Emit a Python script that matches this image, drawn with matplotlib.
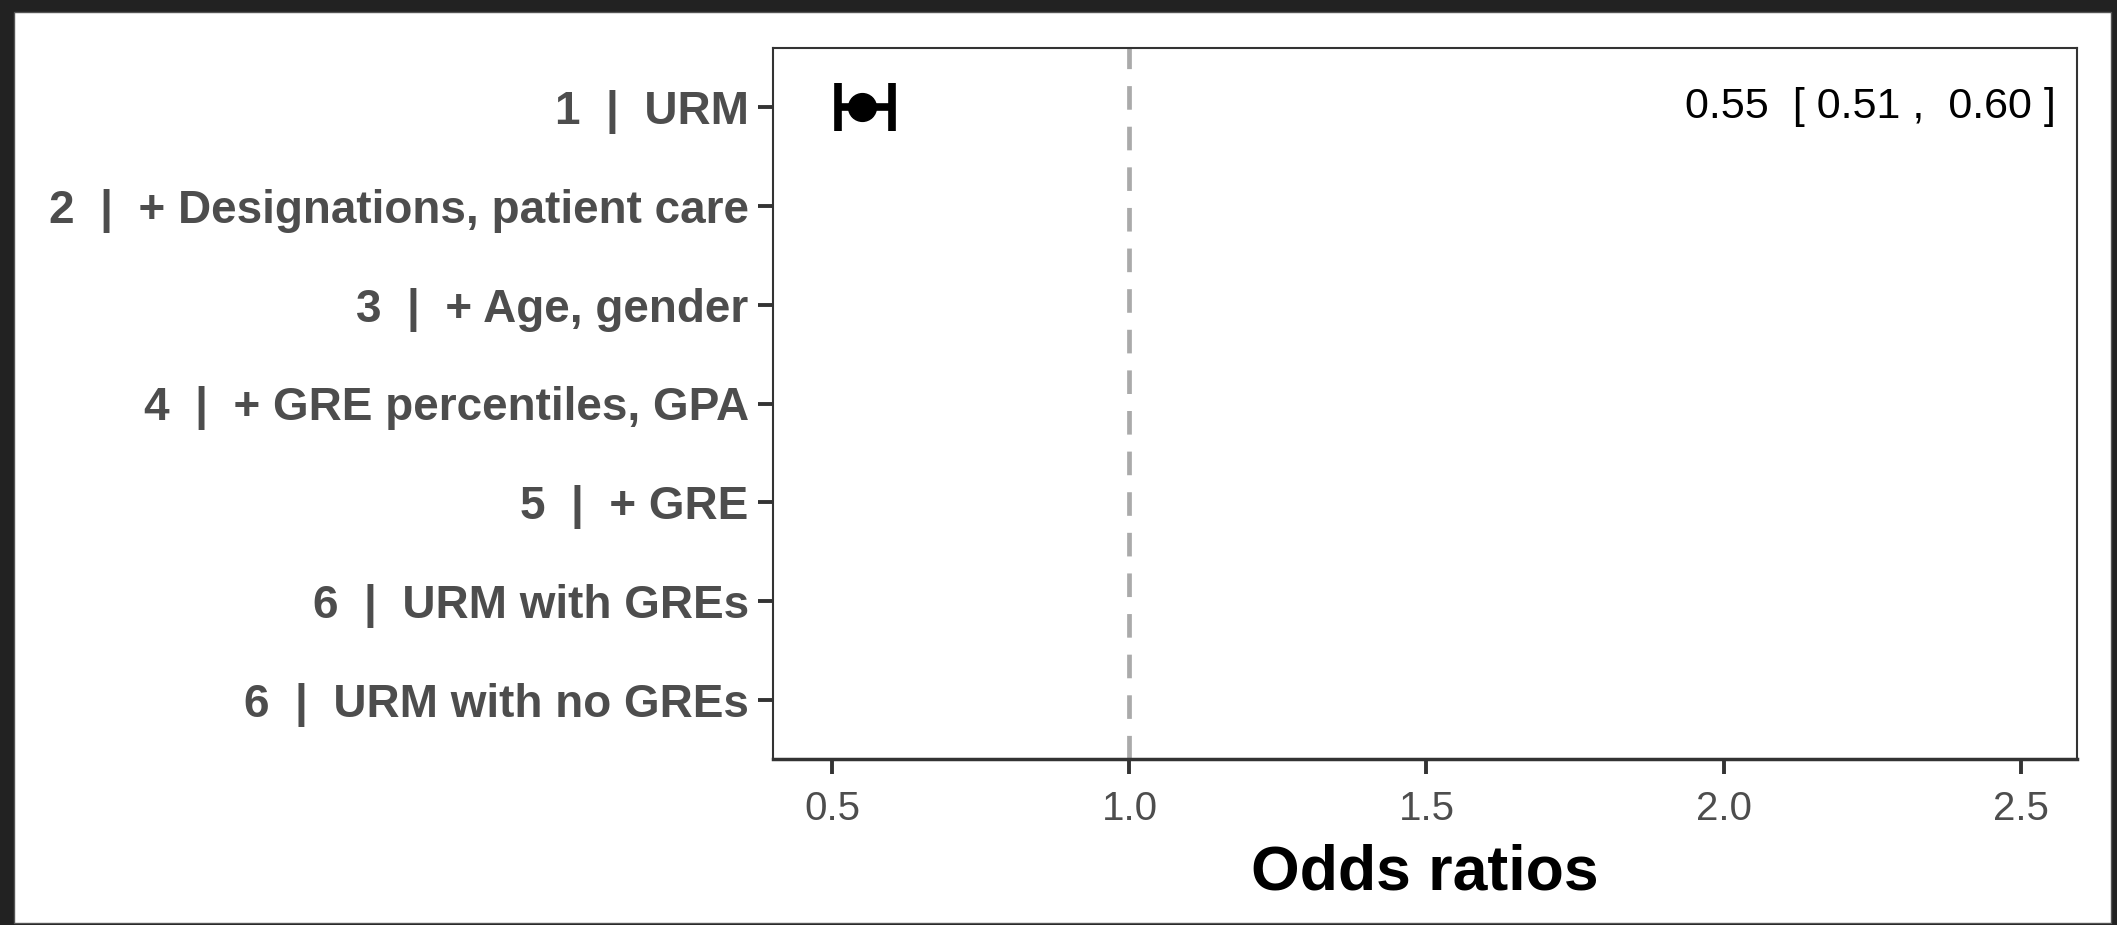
import matplotlib
matplotlib.use("Agg")
import matplotlib.pyplot as plt
from matplotlib.patches import Rectangle

# model rows, top to bottom
labels = [
    "1  |  URM",
    "2  |  + Designations, patient care",
    "3  |  + Age, gender",
    "4  |  + GRE percentiles, GPA",
    "5  |  + GRE",
    "6  |  URM with GREs",
    "6  |  URM with no GREs",
]
# only the first model has an estimate so far
est = [0.55]
lo = [0.51]
hi = [0.60]
xticks = [0.5, 1.0, 1.5, 2.0, 2.5]

plt.rcParams["font.family"] = ["Liberation Sans", "DejaVu Sans"]

W, H = 2117, 925
fig = plt.figure(figsize=(W / 100, H / 100), dpi=100)
fig.patch.set_facecolor("#222222")
# white canvas inside the dark frame
fig.patches.append(Rectangle((14 / W, 2 / H), (2111 - 14) / W, (925 - 12 - 2) / H,
                             transform=fig.transFigure, facecolor="white",
                             edgecolor="#555555", linewidth=1, zorder=-1))

ax = fig.add_axes([773 / W, 1 - 759 / H, (2077 - 773) / W, (759 - 48) / H])
ax.set_facecolor("white")
ax.set_zorder(1)

ypos = list(range(1, len(labels) + 1))

# reference line at OR = 1
ax.axvline(1.0, color="#aaaaaa", linestyle=(0, (5, 3.6)), linewidth=3.4, zorder=1)

for i in range(len(est)):
    y = ypos[i]
    ax.errorbar(est[i], y, xerr=[[est[i] - lo[i]], [hi[i] - est[i]]],
                fmt="o", color="black", markersize=20, elinewidth=5.5,
                capsize=17, capthick=5.5, zorder=3)
    ax.text(2.56, y, f"{est[i]:.2f}  [ {lo[i]:.2f} ,  {hi[i]:.2f} ]",
            ha="right", va="center", fontsize=31, color="black")

ax.set_xlim(0.40, 2.595)
ax.set_ylim(len(labels) + 0.6, 0.4)
ax.set_yticks(ypos)
ax.set_yticklabels(labels, fontsize=33, fontweight="bold", color="#4d4d4d")
ax.set_xticks(xticks)
ax.set_xticklabels([f"{v:.1f}" for v in xticks], fontsize=29, color="#4d4d4d")
ax.tick_params(axis="both", length=10.5, width=2.8, color="#333333")
ax.tick_params(axis="y", pad=7)
ax.tick_params(axis="x", pad=12)

for side in ["top", "right", "left", "bottom"]:
    ax.spines[side].set_color("#333333")
    ax.spines[side].set_linewidth(1.5)
ax.spines["bottom"].set_linewidth(2.5)

ax.set_xlabel("Odds ratios", fontsize=45, fontweight="bold", color="black", labelpad=11)

fig.savefig("out.png", dpi=100, facecolor=fig.get_facecolor())
